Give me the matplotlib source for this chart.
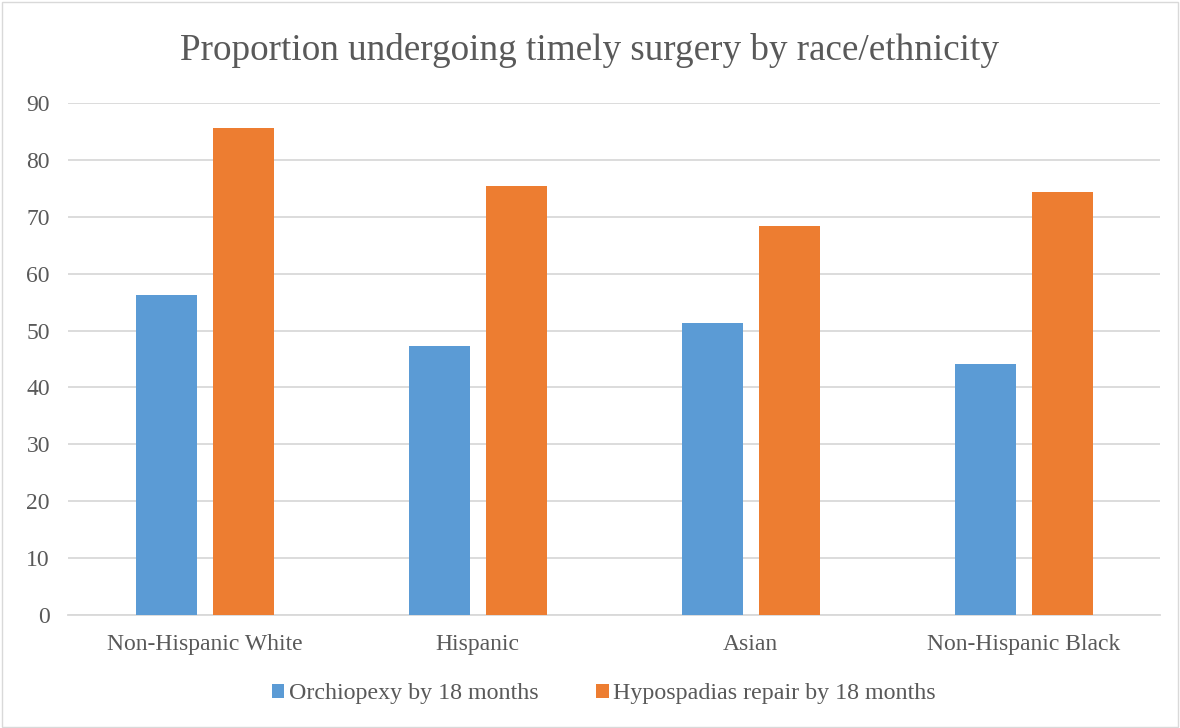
import numpy as np
import matplotlib
matplotlib.use("Agg")
import matplotlib.pyplot as plt
from matplotlib.patches import Rectangle

# data
categories = ['Non-Hispanic White', 'Hispanic', 'Asian', 'Non-Hispanic Black']
orchiopexy = [56.3, 47.3, 51.3, 44.1]
hypospadias = [85.6, 75.4, 68.4, 74.4]
series_names = ['Orchiopexy by 18 months', 'Hypospadias repair by 18 months']
yticks = [0, 10, 20, 30, 40, 50, 60, 70, 80, 90]

BLUE = '#5B9BD5'
ORANGE = '#ED7D31'
TEXT = '#595959'
GRID = '#D9D9D9'

plt.rcParams['font.family'] = ['Liberation Serif', 'DejaVu Serif']

fig = plt.figure(figsize=(11.8, 7.28), dpi=100)
ax = fig.add_axes([68 / 1180, 1 - 615 / 728, (1160 - 68) / 1180, (615 - 103) / 728])

x = np.arange(len(categories))
w = 0.223
ax.bar(x - 0.138, orchiopexy, w, color=BLUE, label=series_names[0], zorder=3)
ax.bar(x + 0.144, hypospadias, w, color=ORANGE, label=series_names[1], zorder=3)

ax.set_xlim(-0.5, len(categories) - 0.5)
ax.set_ylim(0, 90)
ax.set_yticks(yticks)
ax.set_xticks(x)
ax.set_xticklabels(categories)
ax.yaxis.grid(True, color=GRID, linewidth=1.3, zorder=0)
ax.tick_params(axis='both', length=0, labelsize=17, colors=TEXT)
ax.tick_params(axis='x', pad=14)
ax.tick_params(axis='y', pad=13)
for s in ['top', 'right', 'left']:
    ax.spines[s].set_visible(False)
ax.spines['bottom'].set_color(GRID)
ax.spines['bottom'].set_linewidth(1.3)

fig.text(0.5, 1 - 50 / 728, 'Proportion undergoing timely surgery by race/ethnicity',
         ha='center', va='center', fontsize=26.7, color=TEXT)

leg = fig.legend(loc='center', bbox_to_anchor=(0.512, 1 - 694 / 728), ncol=2,
                 frameon=False, fontsize=17.3, handlelength=0.5, handleheight=0.5,
                 handletextpad=0.2, columnspacing=2.4, labelcolor=TEXT)

# light chart border
fig.patches.append(Rectangle((0.002, 0.002), 0.996, 0.995, transform=fig.transFigure,
                             fill=False, edgecolor=GRID, linewidth=1))

fig.savefig('out.png', dpi=100)
